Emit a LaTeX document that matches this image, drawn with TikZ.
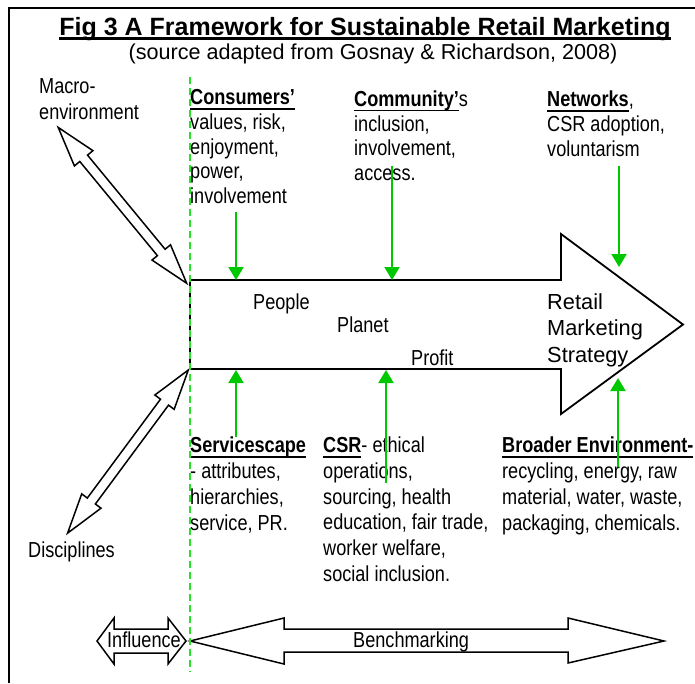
\documentclass[tikz,border=0pt]{standalone}
\usepackage{fontspec}
\setmainfont{Liberation Sans}
\newfontfamily\narrowfont{Liberation Sans}[FakeStretch=0.835]
\usetikzlibrary{arrows.meta}
\definecolor{linkgreen}{RGB}{0,200,0}
\definecolor{guidegreen}{RGB}{40,225,40}
% underline with a given rule depth and thickness
\newsavebox\ulbox
\newcommand\ulrule[3]{\sbox\ulbox{#3}\rlap{\rule[-#1]{\wd\ulbox}{#2}}\usebox\ulbox}
\newcommand\hd[1]{\ulrule{5pt}{1.6pt}{\textbf{#1}}}
% double-headed block arrow along the local x axis, length #1
\newcommand\dblblock[1]{%
  (0,0) -- (40,12) -- (40,5) -- (#1-40,5) -- (#1-40,12) -- (#1,0)
  -- (#1-40,-12) -- (#1-40,-5) -- (40,-5) -- (40,-12) -- cycle}
\begin{document}
\begin{tikzpicture}[x=1pt,y=-1pt,
  outline/.style={draw=black,line width=1.8pt,line join=miter,fill=white},
  thinoutline/.style={draw=black,line width=1.5pt,line join=miter,fill=white},
  % multi-line labels are placed by the baseline of their last line
  body/.style={font=\narrowfont\fontsize{21.7}{25.8}\selectfont,inner sep=0pt,anchor=base west,align=left},
  toptext/.style={body,font=\narrowfont\fontsize{21.7}{24.7}\selectfont},
  link/.style={draw=linkgreen,line width=2pt,-{Triangle[width=15pt,length=13pt]}},
  guide/.style={draw=guidegreen,line width=2pt,dash pattern=on 7pt off 4pt}]
\useasboundingbox (0,0) rectangle (695,683);

% frame
\draw[line width=2pt] (9,683) -- (9,8) -- (695,8);

% title and source
\node[inner sep=0pt,anchor=base,font=\bfseries\fontsize{25}{30}\selectfont] (title) at (365,35)
  {\ulrule{4.5pt}{2.2pt}{Fig 3 A Framework for Sustainable Retail Marketing}};
\node[inner sep=0pt,anchor=base,font=\fontsize{21.6}{26}\selectfont] (source) at (373,59)
  {(source adapted from Gosnay \& Richardson, 2008)};

% central strategy arrow
\draw[outline] (190,280) coordinate (shaftTL) -- (561,280) -- (561,234) -- (683,324.5)
  -- (561,414) -- (561,369) -- (190,369) coordinate (shaftBL) -- cycle;

% diagonal double arrows to the left
\coordinate (macroEnd) at (186.7,283.3);
\coordinate (discEnd) at (188.3,370);
\draw[thinoutline,shift={(macroEnd)},rotate=129.5] \dblblock{202};
\draw[thinoutline,shift={(discEnd)},rotate=-126.5] \dblblock{203};

% bottom block arrows
\draw[thinoutline] (97,641) -- (114,618) -- (114,629) -- (168,629) -- (168,618) -- (186,641)
  -- (168,664) -- (168,653) -- (114,653) -- (114,664) -- cycle;
\draw[thinoutline] (190,641) -- (284,618) -- (284,629) -- (568,629) -- (568,618) -- (664,641)
  -- (568,663) -- (568,652) -- (284,652) -- (284,664) -- cycle;

% labels
\node[body] (macro) at (39,119) {Macro-\\environment};
\node[body] (disc) at (28,557) {Disciplines};
\node[body] (influence) at (107,647) {Influence};
\node[body] (bench) at (353,647) {Benchmarking};
\node[body] (people) at (253,309) {People};
\node[body] (planet) at (337,332) {Planet};
\node[body] (profit) at (411,365) {Profit};
\node[inner sep=0pt,anchor=base west,align=left,font=\fontsize{21.8}{26.5}\selectfont] (rms) at (547,362)
  {Retail\\Marketing\\Strategy};

\node[toptext] (consumers) at (190,203.5)
  {\hd{Consumers’}\\values, risk,\\enjoyment,\\power,\\involvement};
\node[toptext] (community) at (354,180.5)
  {\hd{Community’}s\\inclusion,\\involvement,\\access.};
\node[toptext] (networks) at (547,156)
  {\hd{Networks},\\CSR adoption,\\voluntarism};
\node[body] (service) at (190,530)
  {\hd{Servicescape}\\- attributes,\\hierarchies,\\service, PR.};
\node[body] (csr) at (323,581.5)
  {\hd{CSR}- ethical\\operations,\\sourcing, health\\education, fair trade,\\worker welfare,\\social inclusion.};
\node[body] (broader) at (502,530)
  {\hd{Broader Environment-}\\recycling, energy, raw\\material, water, waste,\\packaging, chemicals.};

% dashed boundary
\draw[guide] (190,77) coordinate (guideTop) -- (190,672) coordinate (guideBot);

% influences on the strategy
\coordinate (consFrom) at (236,212);  \coordinate (consTo) at (236,280);
\coordinate (commFrom) at (392,166);  \coordinate (commTo) at (392,280);
\coordinate (netFrom) at (619,166);   \coordinate (netTo) at (619,267);
\coordinate (servFrom) at (236,437);  \coordinate (servTo) at (236,370);
\coordinate (csrFrom) at (386,483);   \coordinate (csrTo) at (386,370);
\coordinate (envFrom) at (618,467);   \coordinate (envTo) at (618,378);
\draw[link] (consFrom) -- (consTo);
\draw[link] (commFrom) -- (commTo);
\draw[link] (netFrom) -- (netTo);
\draw[link] (servFrom) -- (servTo);
\draw[link] (csrFrom) -- (csrTo);
\draw[link] (envFrom) -- (envTo);
\end{tikzpicture}
\end{document}
